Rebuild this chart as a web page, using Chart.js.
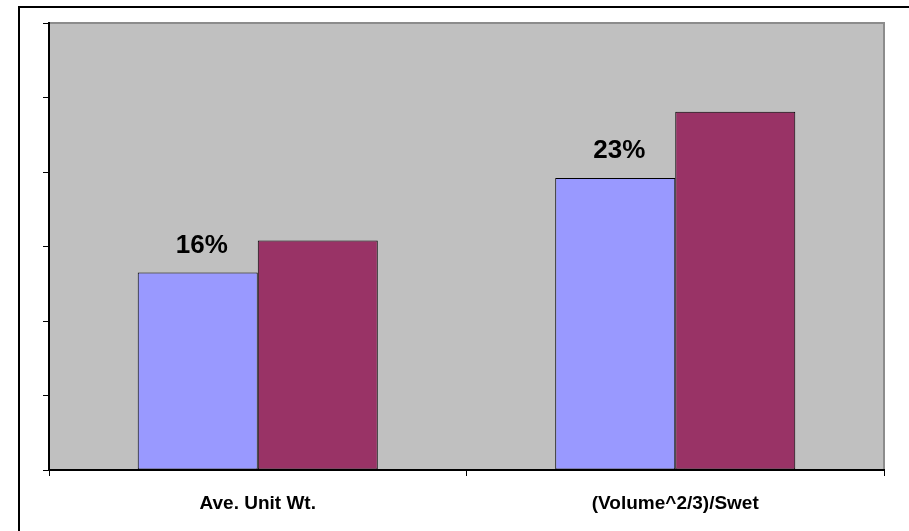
<!DOCTYPE html>
<html>
<head>
<meta charset="utf-8">
<script src="https://cdn.jsdelivr.net/npm/chart.js@4"></script>
<style>
  html, body { margin: 0; padding: 0; background: #fff; }
  canvas { display: block; }
</style>
</head>
<body>
<canvas id="grafico" width="909" height="531"></canvas>
<script>
// Datos del gráfico
const categorias = ['Ave. Unit Wt.', '(Volume^2/3)/Swet'];
const serieA = [2.65, 3.92];
const serieB = [3.08, 4.81];
const etiquetasPct = ['16%', '23%'];

const FUENTE = '"Liberation Sans", Arial, sans-serif';

// Fondo gris del área de trazado y marco exterior
const fondoPlugin = {
    id: 'fondo',
    beforeDraw(chart) {
        const { ctx, chartArea: a } = chart;
        ctx.save();
        ctx.fillStyle = '#C0C0C0';
        ctx.fillRect(a.left, a.top, a.right - a.left, a.bottom - a.top);
        ctx.strokeStyle = '#8C8C8C';
        ctx.lineWidth = 2;
        ctx.beginPath();
        ctx.moveTo(a.left, a.top);
        ctx.lineTo(a.right, a.top);
        ctx.lineTo(a.right, a.bottom);
        ctx.stroke();
        // marco del gráfico
        ctx.strokeStyle = '#000';
        ctx.lineWidth = 2;
        ctx.beginPath();
        ctx.moveTo(19, chart.height);
        ctx.lineTo(19, 7);
        ctx.lineTo(chart.width, 7);
        ctx.stroke();
        ctx.restore();
    }
};

// Etiquetas de porcentaje sobre la primera serie
const pctPlugin = {
    id: 'pct',
    afterDatasetsDraw(chart) {
        const { ctx } = chart;
        const meta = chart.getDatasetMeta(0);
        ctx.save();
        ctx.fillStyle = '#000';
        ctx.font = 'bold 26px ' + FUENTE;
        ctx.textAlign = 'center';
        ctx.textBaseline = 'alphabetic';
        meta.data.forEach((bar, i) => {
            ctx.fillText(etiquetasPct[i], bar.x + 4, bar.y - 20);
        });
        ctx.restore();
    }
};

new Chart(document.getElementById('grafico'), {
    type: 'bar',
    data: {
        labels: categorias,
        datasets: [
            {
                label: 'Serie 1',
                data: serieA,
                backgroundColor: '#9999FF',
                borderColor: '#000',
                borderWidth: 1,
                borderSkipped: false
            },
            {
                label: 'Serie 2',
                data: serieB,
                backgroundColor: '#993366',
                borderColor: '#000',
                borderWidth: 1,
                borderSkipped: false
            }
        ]
    },
    options: {
        responsive: false,
        animation: false,
        categoryPercentage: 0.575,
        barPercentage: 1.0,
        layout: { padding: { left: 43, top: 23, right: 25, bottom: 0 } },
        plugins: {
            legend: { display: false },
            tooltip: { enabled: false }
        },
        scales: {
            x: {
                afterFit(scale) { scale.height = 61; },
                grid: {
                    offset: true,
                    drawOnChartArea: false,
                    tickLength: 6,
                    tickColor: '#000'
                },
                border: { color: '#000', width: 2 },
                ticks: {
                    color: '#000',
                    padding: 16,
                    font: { family: FUENTE, size: 19, weight: 'bold' }
                }
            },
            y: {
                min: 0,
                max: 6,
                ticks: { stepSize: 1, display: false },
                grid: {
                    drawOnChartArea: false,
                    tickLength: 6,
                    tickColor: '#000'
                },
                border: { color: '#000', width: 2 }
            }
        }
    },
    plugins: [fondoPlugin, pctPlugin]
});
</script>
</body>
</html>
